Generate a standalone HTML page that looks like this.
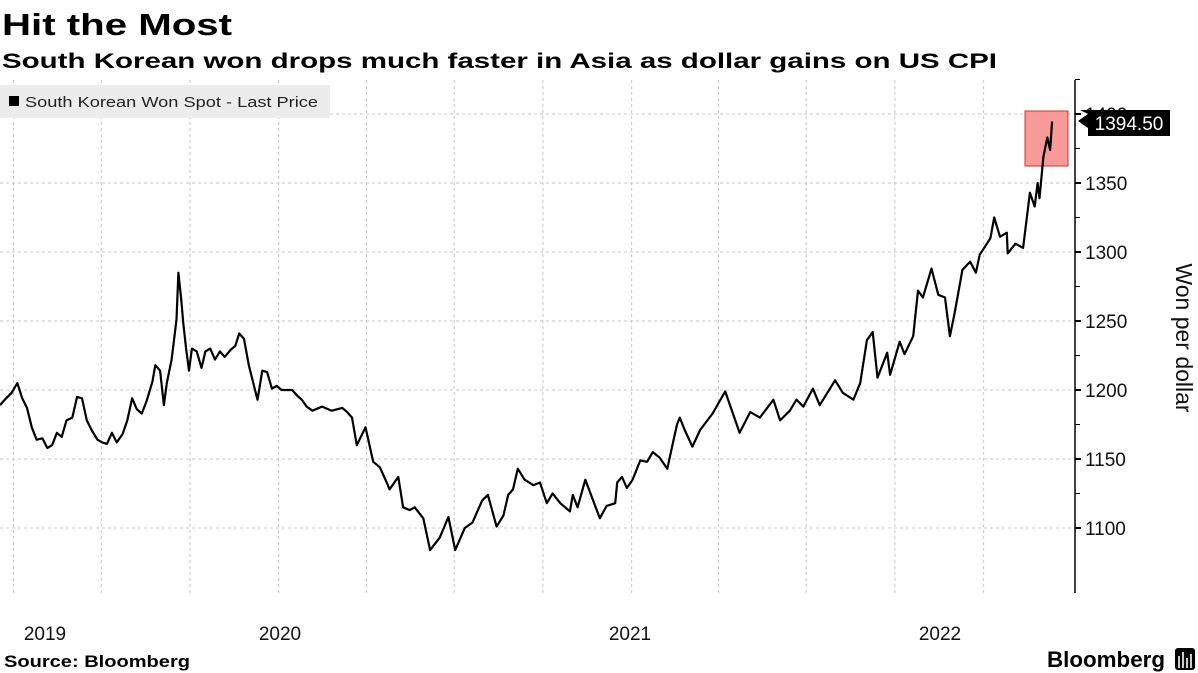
<!DOCTYPE html>
<html><head><meta charset="utf-8"><style>
html,body{margin:0;padding:0;background:#fff;}
svg{display:block;font-family:"Liberation Sans",sans-serif;}
</style></head><body>
<svg id="chart" width="1198" height="673" viewBox="0 0 1198 673">
<text x="2" y="35" font-size="31" font-weight="bold" textLength="230" lengthAdjust="spacingAndGlyphs">Hit the Most</text>
<text x="2" y="68" font-size="21" font-weight="bold" textLength="995" lengthAdjust="spacingAndGlyphs">South Korean won drops much faster in Asia as dollar gains on US CPI</text>
<g id="grid"></g>
<g>
<rect x="0" y="85" width="330" height="33" fill="#ececec"/>
<rect x="9" y="96" width="10" height="10" fill="#000"/>
<text x="25" y="107" font-size="15" fill="#222" textLength="293" lengthAdjust="spacingAndGlyphs">South Korean Won Spot - Last Price</text>
</g>
<rect x="1025" y="111" width="43" height="55" fill="#f78f8f" stroke="#c0392b" stroke-width="1" fill-opacity="0.9"/>
<path id="line" fill="none" stroke="#000" stroke-width="2.2" stroke-linejoin="round"/>
<g id="yaxis"></g>
<g>
<path d="M1080,110 L1170,110 L1170,136 L1088,136 L1088,128 L1078,121 L1088,114 Z" fill="#000"/>
<text x="1129" y="130" font-size="19" fill="#fff" text-anchor="middle">1394.50</text>
</g>
<text transform="translate(1176,338) rotate(90)" font-size="23" text-anchor="middle" fill="#111">Won per dollar</text>
<g font-size="19" fill="#111" text-anchor="middle">
<text x="45" y="640">2019</text><text x="280" y="640">2020</text><text x="630" y="640">2021</text><text x="940" y="640">2022</text>
</g>
<text x="4" y="667" font-size="17" font-weight="bold" textLength="186" lengthAdjust="spacingAndGlyphs">Source: Bloomberg</text>
<text x="1047" y="667" font-size="22" font-weight="bold" textLength="118" lengthAdjust="spacingAndGlyphs">Bloomberg</text>
<rect x="1175" y="648" width="20" height="22" rx="3" fill="#000"/>
<path d="M1179,668 V656 M1183,668 V652 M1187,668 V658 M1191,668 V654" stroke="#fff" stroke-width="1.6"/>
</svg>
<script>
// days since 2019-03-18
const days=[0,5,12,18,23,28,33,38,44,49,54,59,64,69,75,80,85,90,95,101,106,111,116,121,127,132,137,142,147,152,158,161,166,170,173,178,183,185,188,190,193,196,199,204,209,213,218,223,228,233,239,244,248,253,258,267,272,277,282,287,292,303,308,313,318,324,334,344,355,360,365,370,379,387,394,401,404,413,418,425,430,439,446,456,465,472,482,490,500,506,515,522,527,532,537,544,553,560,567,573,581,591,594,599,607,615,622,629,638,640,645,650,656,664,671,677,684,692,697,702,705,710,718,726,739,752,760,767,778,788,802,809,819,826,833,843,850,866,874,885,892,899,905,910,920,923,933,938,947,952,957,966,973,980,985,990,998,1006,1012,1016,1027,1031,1037,1044,1045,1053,1061,1068,1073,1076,1078,1082,1086,1089,1091];
const values=[1189,1193,1198,1205,1194,1187,1173,1164,1165,1158,1160,1169,1166,1178,1180,1195,1194,1178,1171,1164,1162,1161,1169,1162,1168,1178,1194,1186,1183,1192,1206,1218,1214,1189,1205,1222,1251,1285,1265,1249,1230,1214,1230,1228,1216,1228,1230,1222,1228,1224,1229,1232,1241,1237,1218,1193,1214,1213,1201,1203,1200,1200,1196,1193,1188,1185,1188,1185,1187,1184,1180,1160,1173,1148,1144,1133,1128,1137,1115,1113,1115,1107,1084,1093,1108,1084,1100,1104,1120,1124,1101,1109,1124,1128,1143,1135,1131,1133,1118,1125,1118,1112,1124,1115,1135,1120,1107,1116,1118,1133,1137,1129,1135,1149,1148,1155,1151,1143,1159,1175,1180,1171,1159,1171,1183,1199,1183,1169,1184,1180,1193,1178,1185,1193,1188,1201,1189,1207,1198,1193,1205,1236,1242,1209,1227,1211,1235,1226,1239,1272,1267,1288,1269,1267,1239,1256,1287,1293,1285,1298,1310,1325,1311,1314,1299,1306,1303,1343,1333,1350,1339,1369,1383,1374,1394.5];
const yTicks=[1100,1150,1200,1250,1300,1350,1400];
const quarterDays=[14,105,197,289,380,471,563,655,745,836,928,1020];
const X=d=>d/1.037;
const Y=v=>528-(v-1100)*1.38;
const NS='http://www.w3.org/2000/svg';
const grid=document.getElementById('grid'), yax=document.getElementById('yaxis');
function mk(tag,attrs,parent){const e=document.createElementNS(NS,tag);for(const k in attrs)e.setAttribute(k,attrs[k]);parent.appendChild(e);return e;}
yTicks.forEach(v=>{
  const g=mk('line',{x1:0,x2:1075,y1:Y(v),y2:Y(v),stroke:'#c8c8c8','stroke-dasharray':'3,3'},grid);
  
  
  mk('line',{x1:1075,x2:1081,y1:Y(v),y2:Y(v),stroke:'#000','stroke-width':2},yax);
  mk('line',{x1:1075,x2:1080,y1:Y(v+25),y2:Y(v+25),stroke:'#000','stroke-width':1},yax);
  const t=mk('text',{x:1085,y:Y(v)+7,'font-size':19,fill:'#111'},yax);
  t.textContent=v;
  
  
});
quarterDays.forEach(d=>{
  const g=mk('line',{x1:X(d),x2:X(d),y1:80,y2:593,stroke:'#c8c8c8','stroke-dasharray':'3,3'},grid);
  
  
});
mk('line',{x1:1075,x2:1075,y1:80,y2:593,stroke:'#000','stroke-width':1.5},yax);
document.getElementById('line').setAttribute('d',days.map((d,i)=>(i?'L':'M')+X(d).toFixed(1)+','+Y(values[i]).toFixed(1)).join(''));
</script>
</body></html>
